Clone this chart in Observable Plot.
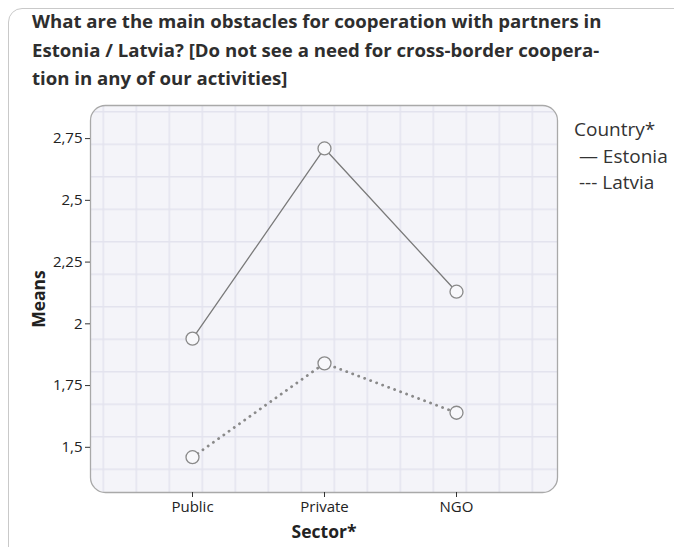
<!DOCTYPE html>
<html>
<head>
<meta charset="utf-8">
<script src="https://cdn.jsdelivr.net/npm/d3@7"></script>
<script src="https://cdn.jsdelivr.net/npm/@observablehq/plot@0.6"></script>
<style>
  html, body { margin: 0; padding: 0; background: #fff; }
  body { width: 674px; height: 547px; overflow: hidden; position: relative; font-family: "Open Sans", sans-serif; }
  #box { position: absolute; left: 8px; top: 8px; width: 700px; height: 560px; border: 1.5px solid #c9c9c9; border-radius: 14px; box-sizing: border-box; }
  #title { position: absolute; left: 32px; top: 7px; white-space: nowrap; font-weight: 700; font-size: 18.6px; line-height: 28.5px; color: #2e2e2e; }
  #chart { position: absolute; left: 0; top: 95px; }
  #legend { position: absolute; left: 574px; top: 116px; font-size: 19px; line-height: 26.5px; color: #333; white-space: nowrap; }
  #chart svg g[aria-label="y-axis label"] text,
  #chart svg g[aria-label="x-axis label"] text { font-weight: 700; font-size: 17.5px; fill: #222; }
  #chart svg g[aria-label="y-axis tick label"] text,
  #chart svg g[aria-label="x-axis tick label"] text { fill: #222; }
</style>
</head>
<body>
<div id="box"></div>
<div id="title"></div>
<div id="chart"></div>
<div id="legend"></div>
<script>
const titleLines = [
  "What are the main obstacles for cooperation with partners in",
  "Estonia / Latvia? [Do not see a need for cross-border coopera-",
  "tion in any of our activities]"
];
const sectors = ["Public", "Private", "NGO"];
const estonia = [1.94, 2.71, 2.13];
const latvia = [1.46, 1.84, 1.64];
const countries = ["Estonia", "Latvia"];
const legendGlyphs = ["\u2014", "---"];
const yTicks = [1.5, 1.75, 2, 2.25, 2.5, 2.75];
const yLabel = "Means";
const xLabel = "Sector*";
const legendTitle = "Country*";

document.getElementById("title").innerHTML = titleLines.join("<br>");

const rows = [];
sectors.forEach((s, i) => {
  rows.push({sector: s, country: countries[0], mean: estonia[i]});
  rows.push({sector: s, country: countries[1], mean: latvia[i]});
});
const est = rows.filter(d => d.country === countries[0]);
const lat = rows.filter(d => d.country === countries[1]);

const fmt = v => String(v).replace(".", ",");

const plot = Plot.plot({
  width: 570,
  height: 452,
  marginLeft: 90,
  marginRight: 13,
  marginTop: 10,
  marginBottom: 55,
  style: {fontFamily: "'Open Sans', sans-serif", fontSize: "15px", color: "#333", background: "transparent"},
  x: {type: "point", domain: sectors, padding: 0.76},
  y: {domain: [1.317, 2.884]},
  marks: [
    Plot.frame({fill: "url(#gridpat)", stroke: "#a9a9a9", strokeWidth: 1.3, rx: 15}),
    Plot.axisY({ticks: yTicks, tickFormat: fmt, tickSize: 5, tickPadding: 3, fontSize: 15,
      label: yLabel, labelAnchor: "center", labelArrow: "none", labelOffset: 58}),
    Plot.axisX({tickSize: 5, tickPadding: 4, fontSize: 15,
      label: xLabel, labelAnchor: "center", labelArrow: "none", labelOffset: 45}),
    Plot.line(est, {x: "sector", y: "mean", stroke: "#7a7a7a", strokeWidth: 1.3}),
    Plot.line(lat, {x: "sector", y: "mean", stroke: "#8a8a8a", strokeWidth: 2.8,
      strokeDasharray: "0.1 6.3", strokeLinecap: "round"}),
    Plot.dot(rows, {x: "sector", y: "mean", r: 6.5, stroke: "#8a8a8a", strokeWidth: 1.3, fill: "#f8f8fb"})
  ]
});

// decorative grid texture for the plot background
const ns = "http://www.w3.org/2000/svg";
const defs = document.createElementNS(ns, "defs");
defs.innerHTML = `
  <pattern id="gridpat" patternUnits="userSpaceOnUse" x="3" y="15.5" width="33" height="32.5">
    <rect width="33" height="32.5" fill="#f4f4f9"/>
    <line x1="0" y1="0" x2="33" y2="0" stroke="#e3e3ee" stroke-width="3"/>
    <line x1="0" y1="0" x2="0" y2="32.5" stroke="#e3e3ee" stroke-width="3"/>
  </pattern>`;
plot.insertBefore(defs, plot.firstChild);
document.getElementById("chart").appendChild(plot);

const leg = document.getElementById("legend");
leg.innerHTML = `<div>${legendTitle}</div>` +
  countries.map((c, i) => `<div>&nbsp;${legendGlyphs[i]} ${c}</div>`).join("");
</script>
</body>
</html>
